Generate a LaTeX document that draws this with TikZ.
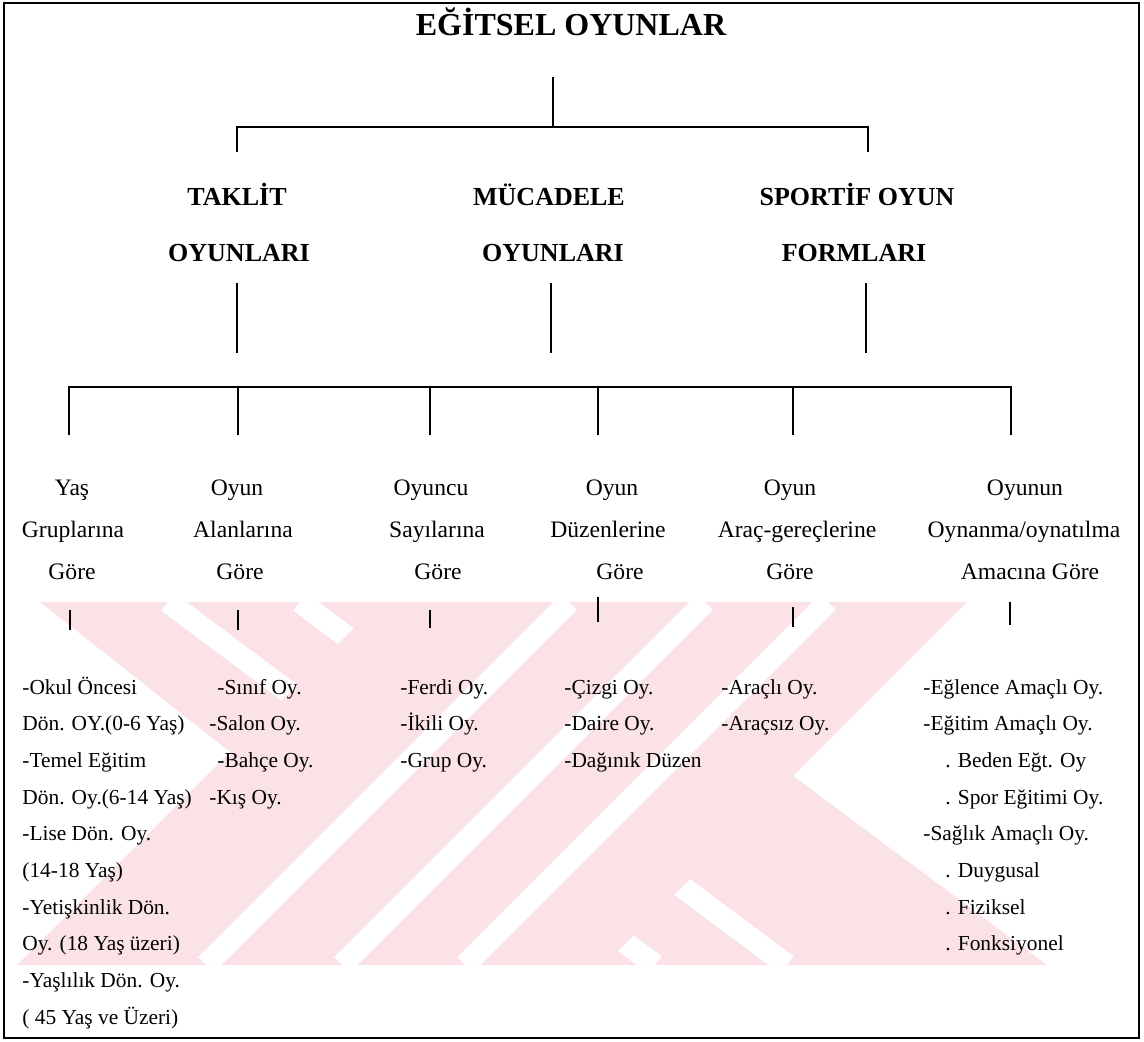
\documentclass[tikz,border=0pt]{standalone}
\usepackage{fontspec}
\setmainfont{Liberation Serif}
\definecolor{wm}{RGB}{251,226,230}
\tikzset{
  conn/.style={line width=0.8pt, black},
  frameline/.style={line width=1pt, black},
  ttl/.style={font=\fontsize{16}{19}\selectfont\bfseries, inner sep=0pt, anchor=base},
  cat/.style={font=\fontsize{13}{16}\selectfont\bfseries, inner sep=0pt, anchor=base},
  sub/.style={font=\fontsize{11.8}{14}\selectfont, inner sep=0pt, anchor=base},
  leaf/.style={font=\fontsize{10.7}{13}\selectfont, inner sep=0pt, anchor=base west},
  stripe/.style={white, line width=11pt},
}
\begin{document}
\begin{tikzpicture}[x=0.5pt,y=-0.5pt]
\useasboundingbox (0,0) rectangle (1144,1041);
% watermark
\begin{scope}
  \clip (6,602) rectangle (1137,965);
  % band going down-right
  \begin{scope}
    \clip (40,602) -- (560,602) -- (1047,965) -- (500,965) -- cycle;
    \fill[wm] (0,600) rectangle (1144,970);
    \draw[stripe] (168,602) -- (655,965);
    \draw[stripe] (300,602) -- (787,965);
  \end{scope}
  % band going down-left
  \begin{scope}
    \clip (380,602) -- (967,602) -- (604,965) -- (17,965) -- cycle;
    \fill[wm] (0,600) rectangle (1144,970);
    \draw[stripe] (569,602) -- (206,965);
    \draw[stripe] (705,602) -- (342,965);
    \draw[stripe] (828,602) -- (465,965);
  \end{scope}
\end{scope}
% frame
\draw[frameline] (4,3) rectangle (1139,1038);
% titles
\node[ttl] (root) at (571,35) {EĞİTSEL OYUNLAR};
\node[cat] (t1) at (237,205) {TAKLİT};
\node[cat] (t2) at (239,261) {OYUNLARI};
\node[cat] (m1) at (549,205) {MÜCADELE};
\node[cat] (m2) at (553,261) {OYUNLARI};
\node[cat] (s1) at (857,205) {SPORTİF OYUN};
\node[cat] (s2) at (854,261) {FORMLARI};
% level 1 connectors
\coordinate (r0) at (553,77);
\coordinate (r1) at (553,127);
\coordinate (bl) at (237,127);
\coordinate (br) at (868,127);
\coordinate (tt) at (237,152);
\coordinate (st) at (868,152);
\draw[conn] (r0) -- (r1);
\draw[conn] (tt) -- (bl) -- (br) -- (st);
% level 2 verticals
\foreach \n/\x in {ta/237, mu/551, sp/866}{
  \coordinate (\n0) at (\x,283);
  \coordinate (\n1) at (\x,353);
  \draw[conn] (\n0) -- (\n1);
}
% bar 2
\foreach \n/\x in {k1/69, k2/238, k3/430, k4/598, k5/793, k6/1011}{
  \coordinate (\n b) at (\x,387);
  \coordinate (\n d) at (\x,435);
}
\draw[conn] (k1d) -- (k1b) -- (k6b) -- (k6d);
\foreach \n in {k2,k3,k4,k5}{\draw[conn] (\n b) -- (\n d);}
% level 3 labels
\node[sub] (y1) at (72,495) {Yaş};
\node[sub] (y2) at (73,537) {Gruplarına};
\node[sub] (y3) at (72,579) {Göre};
\node[sub] (a1) at (237,495) {Oyun};
\node[sub] (a2) at (243,537) {Alanlarına};
\node[sub] (a3) at (240,579) {Göre};
\node[sub] (o1) at (431,495) {Oyuncu};
\node[sub] (o2) at (437,537) {Sayılarına};
\node[sub] (o3) at (438,579) {Göre};
\node[sub] (d1) at (612,495) {Oyun};
\node[sub] (d2) at (608,537) {Düzenlerine};
\node[sub] (d3) at (620,579) {Göre};
\node[sub] (g1) at (790,495) {Oyun};
\node[sub] (g2) at (797,537) {Araç-gereçlerine};
\node[sub] (g3) at (790,579) {Göre};
\node[sub] (p1) at (1025,495) {Oyunun};
\node[sub] (p2) at (1024,537) {Oynanma/oynatılma};
\node[sub] (p3) at (1030,579) {Amacına Göre};
% short verticals
\foreach \n/\x/\ya/\yb in {v1/70/610/630, v2/238/610/630, v3/430/610/628, v4/598/597/622, v5/793/607/627, v6/1010/602/625}{
  \coordinate (\n a) at (\x,\ya);
  \coordinate (\n b) at (\x,\yb);
  \draw[conn] (\n a) -- (\n b);
}
% leaves
\foreach \t [count=\i] in {{-Okul Öncesi},{Dön. OY.(0-6 Yaş)},{-Temel Eğitim},{Dön. Oy.(6-14 Yaş)},{-Lise Dön. Oy.},{(14-18 Yaş)},{-Yetişkinlik Dön.},{Oy. (18 Yaş üzeri)},{-Yaşlılık Dön. Oy.},{( 45 Yaş ve Üzeri)}}
  \node[leaf] (ya\i) at (22,{694+36.7*(\i-1)}) {\t};
\foreach \dx/\t [count=\i] in {8/{-Sınıf Oy.},0/{-Salon Oy.},8/{-Bahçe Oy.},0/{-Kış Oy.}}
  \node[leaf] (al\i) at ({209+\dx},{694+36.7*(\i-1)}) {\t};
\foreach \t [count=\i] in {{-Ferdi Oy.},{-İkili Oy.},{-Grup Oy.}}
  \node[leaf] (sa\i) at (400,{694+36.7*(\i-1)}) {\t};
\foreach \t [count=\i] in {{-Çizgi Oy.},{-Daire Oy.},{-Dağınık Düzen}}
  \node[leaf] (du\i) at (564,{694+36.7*(\i-1)}) {\t};
\foreach \t [count=\i] in {{-Araçlı Oy.},{-Araçsız Oy.}}
  \node[leaf] (ar\i) at (721,{694+36.7*(\i-1)}) {\t};
\foreach \dx/\t [count=\i] in {0/{-Eğlence Amaçlı Oy.},0/{-Eğitim Amaçlı Oy.},22/{. Beden Eğt. Oy},22/{. Spor Eğitimi Oy.},0/{-Sağlık Amaçlı Oy.},22/{. Duygusal},22/{. Fiziksel},22/{. Fonksiyonel}}
  \node[leaf] (am\i) at ({923+\dx},{694+36.7*(\i-1)}) {\t};
\end{tikzpicture}
\end{document}
